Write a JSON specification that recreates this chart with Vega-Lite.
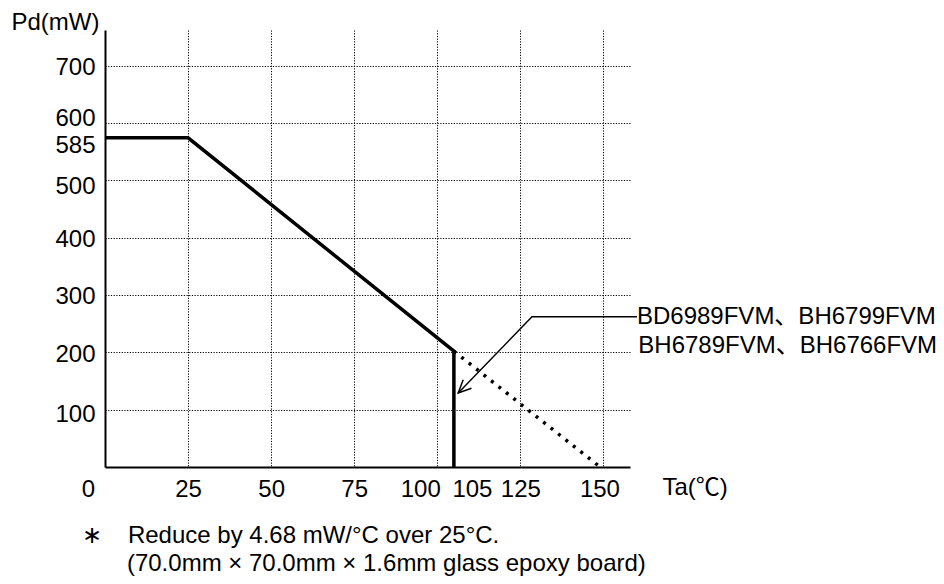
{
  "$schema": "https://vega.github.io/schema/vega-lite/v6.json",
  "width": 525,
  "height": 437,
  "autosize": {"type": "none"},
  "padding": {"left": 105, "top": 30, "right": 314, "bottom": 117},
  "background": "white",
  "config": {
    "view": {"stroke": null},
    "font": "Liberation Sans, Arial, Noto Sans CJK JP",
    "text": {"font": "Liberation Sans, Arial, Noto Sans CJK JP", "fontSize": 24, "color": "black"}
  },
  "datasets": {
    "curve": [
      {"i": 1, "x": 0, "y": 574},
      {"i": 2, "x": 25, "y": 574},
      {"i": 3, "x": 105, "y": 202},
      {"i": 4, "x": 105, "y": 0}
    ],
    "ext": [
      {"i": 1, "x": 105, "y": 202},
      {"i": 2, "x": 149, "y": 0}
    ],
    "leader": [
      {"i": 1, "x": 160.1, "y": 262},
      {"i": 2, "x": 128.5, "y": 262},
      {"i": 3, "x": 106.3, "y": 129}
    ],
    "head": [
      {"i": 1, "x": 110.3, "y": 137.4},
      {"i": 2, "x": 106.3, "y": 129},
      {"i": 3, "x": 107.8, "y": 152.1}
    ],
    "labels": [
      {"x": 160.1, "y": 262, "t": "BD6989FVM、BH6799FVM"},
      {"x": 160.5, "y": 210.4, "t": "BH6789FVM、BH6766FVM"},
      {"x": 6.9, "y": -120.7, "t": "Reduce by 4.68 mW/°C over 25°C."},
      {"x": 6.6, "y": -168.7, "t": "(70.0mm × 70.0mm × 1.6mm glass epoxy board)"}
    ],
    "star": [
      {"x": -3.9, "y": -120.7, "t": "∗"}
    ]
  },
  "encoding": {
    "x": {
      "field": "x",
      "type": "quantitative",
      "scale": {"domain": [0, 158], "nice": false, "zero": false},
      "axis": {
        "values": [0, 25, 50, 75, 100, 105, 125, 150],
        "ticks": false,
        "domainColor": "black",
        "domainWidth": 2,
        "labelFontSize": 24,
        "labelColor": "black",
        "labelFont": "Liberation Sans, Arial",
        "labelPadding": 10,
        "labelFlush": false,
        "labelOverlap": false,
        "labelBound": false,
        "labelOffset": {
          "condition": [
            {"test": "datum.value == 0", "value": -17},
            {"test": "datum.value == 100", "value": -17},
            {"test": "datum.value == 105", "value": 18},
            {"test": "datum.value == 150", "value": -4}
          ],
          "value": 0
        },
        "grid": true,
        "gridColor": "black",
        "gridDash": [1.2, 1.5],
        "gridWidth": 1,
        "gridOpacity": {"condition": {"test": "datum.value == 0 || datum.value == 105", "value": 0}, "value": 1},
        "title": "Ta(℃)",
        "titleFont": "Liberation Sans, Arial, Noto Sans CJK JP",
        "titleFontSize": 24,
        "titleFontWeight": "normal",
        "titleColor": "black",
        "titleAlign": "left",
        "titleBaseline": "middle",
        "titleX": 557,
        "titleY": 20
      }
    },
    "y": {
      "field": "y",
      "type": "quantitative",
      "scale": {"domain": [0, 762], "nice": false, "zero": false},
      "axis": {
        "values": [100, 200, 300, 400, 500, 585, 600, 700],
        "ticks": false,
        "domainColor": "black",
        "domainWidth": 2,
        "labelFontSize": 24,
        "labelColor": "black",
        "labelFont": "Liberation Sans, Arial",
        "labelPadding": 10,
        "labelFlush": false,
        "labelOverlap": false,
        "labelBound": false,
        "labelOffset": {
          "condition": [
            {"test": "datum.value == 585", "value": 14},
            {"test": "datum.value == 600", "value": -4},
            {"test": "datum.value == 500", "value": 6},
            {"test": "datum.value == 100", "value": 5}
          ],
          "value": 2
        },
        "grid": true,
        "gridColor": "black",
        "gridDash": [1.2, 1.5],
        "gridWidth": 1,
        "gridOpacity": {"condition": {"test": "datum.value == 585", "value": 0}, "value": 1},
        "title": "Pd(mW)",
        "titleFont": "Liberation Sans, Arial",
        "titleFontSize": 24,
        "titleFontWeight": "normal",
        "titleColor": "black",
        "titleAngle": 0,
        "titleAlign": "right",
        "titleBaseline": "middle",
        "titleX": -6,
        "titleY": -8
      }
    }
  },
  "layer": [
    {
      "data": {"name": "curve"},
      "mark": {"type": "line", "color": "black", "strokeWidth": 3.5, "strokeJoin": "miter"},
      "encoding": {"order": {"field": "i", "type": "quantitative"}}
    },
    {
      "data": {"name": "ext"},
      "mark": {"type": "line", "color": "black", "strokeWidth": 3.5, "strokeDash": [3, 6.5]},
      "encoding": {"order": {"field": "i", "type": "quantitative"}}
    },
    {
      "data": {"name": "leader"},
      "mark": {"type": "line", "color": "black", "strokeWidth": 1.5},
      "encoding": {"order": {"field": "i", "type": "quantitative"}}
    },
    {
      "data": {"name": "head"},
      "mark": {"type": "line", "color": "black", "strokeWidth": 1.5},
      "encoding": {"order": {"field": "i", "type": "quantitative"}}
    },
    {
      "data": {"name": "labels"},
      "mark": {"type": "text", "align": "left", "baseline": "middle"},
      "encoding": {"text": {"field": "t", "type": "nominal"}}
    },
    {
      "data": {"name": "star"},
      "mark": {"type": "text", "align": "center", "baseline": "middle"},
      "encoding": {"text": {"field": "t", "type": "nominal"}}
    }
  ]
}
